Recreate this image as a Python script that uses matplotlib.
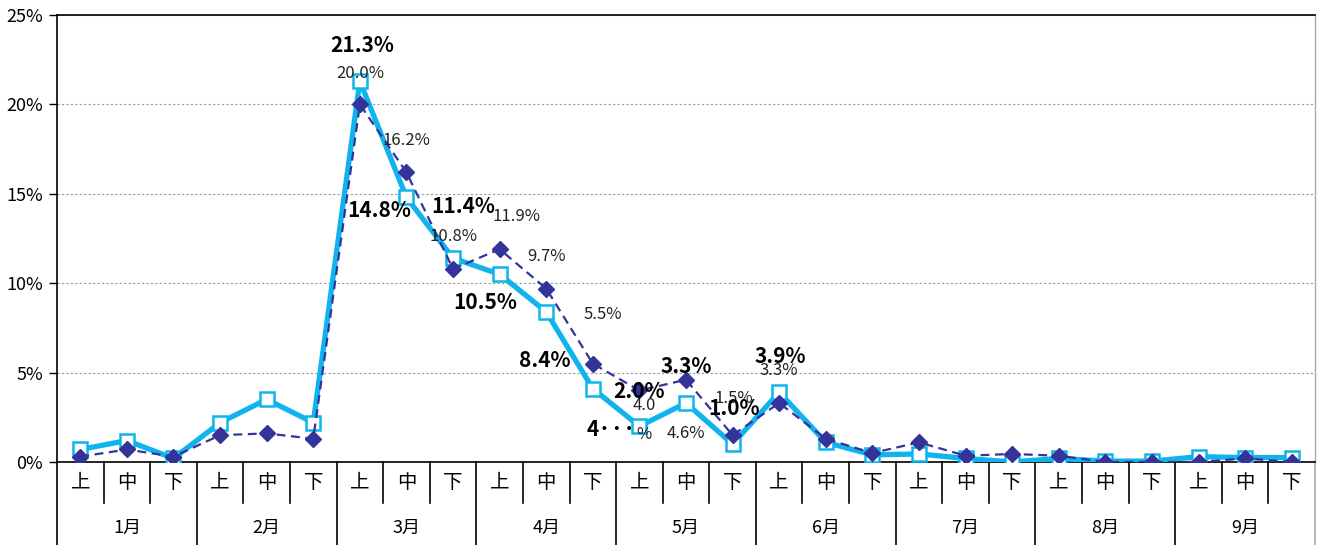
import matplotlib
matplotlib.use("Agg")
import matplotlib.pyplot as plt
import matplotlib.transforms as mtransforms
import numpy as np

plt.rcParams['font.family'] = ['Noto Sans CJK JP', 'DejaVu Sans']

months = ['1月', '2月', '3月', '4月', '5月', '6月', '7月', '8月', '9月']
periods = ['上', '中', '下']

# light blue series (bold labels)
share_a = [0.7, 1.2, 0.2, 2.2, 3.5, 2.2,
           21.3, 14.8, 11.4, 10.5, 8.4, 4.1,
           2.0, 3.3, 1.0, 3.9, 1.1, 0.4,
           0.45, 0.2, 0.0, 0.2, 0.05, 0.05,
           0.3, 0.25, 0.25]
# dark blue series (dashed)
share_b = [0.3, 0.7, 0.3, 1.5, 1.6, 1.3,
           20.0, 16.2, 10.8, 11.9, 9.7, 5.5,
           4.0, 4.6, 1.5, 3.3, 1.3, 0.5,
           1.1, 0.35, 0.45, 0.35, 0.0, 0.0,
           0.0, 0.2, 0.0]

labels_a = {6: '21.3%', 7: '14.8%', 8: '11.4%', 9: '10.5%', 10: '8.4%',
            11: '4···', 12: '2.0%', 13: '3.3%', 14: '1.0%', 15: '3.9%'}
labels_b = {6: '20.0%', 7: '16.2%', 8: '10.8%', 9: '11.9%', 10: '9.7%',
            11: '5.5%', 12: '4.0', 13: '4.6%', 14: '1.5%', 15: '3.3%'}

# label offsets in pixels (dx, dy), dy positive = up
off_a = {6: (2, 36), 7: (-27, -13), 8: (10, 52), 9: (-14, -28), 10: (-1, -49),
         11: (18, -41), 12: (0, 35), 13: (0, 36), 14: (1, 36), 15: (1, 36)}
off_b = {6: (0, 31), 7: (0, 32), 8: (0, 32), 9: (17, 33), 10: (0, 32),
         11: (10, 49), 12: (5, -15), 13: (0, -54), 14: (1, 37), 15: (0, 32)}

light = '#10B4EC'
dark = '#333399'

fig = plt.figure(figsize=(13.21, 5.45), dpi=100)
ax = fig.add_axes([57 / 1321, 83 / 545, (1315 - 57) / 1321, 447 / 545])

x = np.arange(len(share_a))
ax.plot(x, share_a, color=light, lw=3.8, marker='s', ms=10,
        mfc='white', mec=light, mew=1.8, zorder=3)
ax.plot(x, share_b, color=dark, lw=1.6, ls=(0, (4, 2.5)), marker='D', ms=8,
        mfc=dark, mec=dark, zorder=4)

for i, t in labels_b.items():
    dx, dy = off_b[i]
    ax.annotate(t, (x[i], share_b[i]), xytext=(dx, dy), textcoords='offset pixels',
                ha='center', va='center', fontsize=12, color='#222222', zorder=5)
ax.annotate('%', (x[12], share_b[12]), xytext=(5, -44), textcoords='offset pixels',
            ha='center', va='center', fontsize=12, color='#222222', zorder=5)
for i, t in labels_a.items():
    dx, dy = off_a[i]
    ax.annotate(t, (x[i], share_a[i]), xytext=(dx, dy), textcoords='offset pixels',
                ha='center', va='center', fontsize=15, fontweight='bold',
                color='black', zorder=6)

ax.set_xlim(-0.5, len(x) - 0.5)
ax.set_ylim(0, 25)
ax.set_yticks([0, 5, 10, 15, 20, 25])
ax.set_yticklabels(['%d%%' % v for v in [0, 5, 10, 15, 20, 25]], fontsize=13)
ax.tick_params(axis='y', direction='out', length=6, width=1, pad=4)
ax.yaxis.grid(True, color='#999999', ls=(0, (2, 2)), lw=0.8)
ax.set_axisbelow(True)

ax.set_xticks([])
for s in ['top', 'left', 'bottom']:
    ax.spines[s].set_color('black')
    ax.spines[s].set_linewidth(1.2)
ax.spines['right'].set_color('#aaaaaa')
ax.spines['right'].set_linewidth(1.0)

# two-level category axis drawn below
trans = mtransforms.blended_transform_factory(ax.transData, ax.transAxes)
short_bottom = -41 / 447
long_bottom = -83 / 447
for b in np.arange(-0.5, len(x), 1.0):
    k = int(round(b + 0.5))
    if k % 3 == 0:
        yb = long_bottom
        col = 'black' if k < len(x) else '#aaaaaa'
    else:
        yb = short_bottom
        col = 'black'
    ax.plot([b, b], [0, yb], transform=trans, color=col, lw=1.2, clip_on=False)
for i in x:
    ax.text(i, -20 / 447, periods[i % 3], transform=trans, ha='center', va='center',
            fontsize=14)
for m, name in enumerate(months):
    ax.text(3 * m + 1, -66 / 447, name, transform=trans, ha='center', va='center',
            fontsize=13)

fig.savefig('out.png', dpi=100)
